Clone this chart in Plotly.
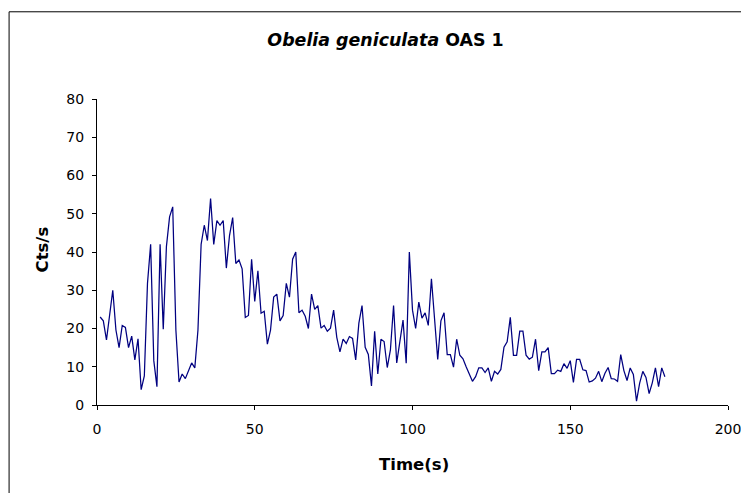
import plotly.graph_objects as go

title_species = "Obelia geniculata"
title_suffix = "OAS 1"
x_label = "Time(s)"
y_label = "Cts/s"

time_s = list(range(1, 181))
counts = [
    23, 22, 17, 24, 30, 19.6, 15, 20.8, 20.3, 15,
    18, 11.8, 17.3, 4, 7.6, 31.8, 42, 11.6, 4.8, 42,
    19.8, 41.4, 49.2, 51.8, 19.6, 6, 8.1, 6.9, 9.2, 11,
    9.7, 19.6, 42, 47, 43, 54, 42, 48.2, 47, 48.2,
    35.8, 44.3, 49, 37, 37.9, 35.6, 22.9, 23.4, 38.1, 27.1,
    35.1, 24, 24.5, 15.9, 19.6, 28.2, 29, 22, 23.4, 31.8,
    28.2, 38.1, 40, 24.1, 24.8, 23.2, 20, 29, 25, 26,
    20.1, 20.8, 19.3, 20.1, 24.8, 17.7, 13.9, 17.2, 16.1, 17.9,
    17.4, 11.8, 21.4, 26, 15.1, 13.2, 5, 19.3, 8.1, 17.2,
    16.6, 9.8, 14.4, 26, 11, 16.4, 22.2, 10.9, 40, 24.8,
    20, 26.9, 22.7, 24.1, 20.8, 33, 22.2, 11.9, 22, 24.1,
    13.2, 13.2, 9.9, 17.2, 13, 12.1, 10, 8, 6.2, 7.4,
    9.7, 9.7, 8.5, 9.7, 6.2, 8.8, 8.1, 9.3, 15.1, 16.5,
    22.9, 13, 13, 19.3, 19.3, 13, 12, 12.5, 17.2, 9,
    13.9, 13.9, 15, 8.2, 8.2, 9.1, 8.8, 10.8, 9.6, 11.6,
    5.9, 11.9, 11.9, 9.2, 9, 6, 6.3, 7, 8.8, 6.1,
    8.3, 9.8, 6.9, 6.8, 6.2, 13.2, 9, 6.4, 9.7, 8,
    1, 5.7, 8.8, 7.2, 3, 5.8, 9.7, 4.8, 9.7, 7.4,
]

x_ticks = [0, 50, 100, 150, 200]
y_ticks = [0, 10, 20, 30, 40, 50, 60, 70, 80]

FONT = "DejaVu Sans"
# the page body adds an 8px offset; the figure fills the rest of the window
OFF = 8
W, H = 749 - OFF, 493 - OFF
ml, mt = 97.4 - OFF, 99 - OFF
mr = W - (728.3 - OFF)
mb = H - (405.3 - OFF)
pw = W - ml - mr
ph = H - mt - mb

fig = go.Figure()
fig.add_trace(go.Scatter(
    x=time_s, y=counts, mode="lines",
    line=dict(color="#000080", width=1.25),
    showlegend=False, hoverinfo="skip",
))

axis_common = dict(
    showgrid=False, zeroline=False, showline=True, linecolor="black", linewidth=1,
    ticks="outside", ticklen=4, tickcolor="black", tickwidth=1,
    tickfont=dict(family=FONT, size=14, color="black"),
    ticklabeloverflow="allow", automargin=False,
)
fig.update_xaxes(range=[0, 200], tickvals=x_ticks, ticktext=[str(v) for v in x_ticks],
                 ticklabelstandoff=7, **axis_common)
fig.update_yaxes(range=[0, 80], tickvals=y_ticks, ticktext=[str(v) for v in y_ticks],
                 ticklabelstandoff=5, **axis_common)

plot_bottom = H - mb  # figure-internal pixel of y=0

fig.update_layout(
    width=W, height=H, autosize=False,
    margin=dict(l=ml, r=mr, t=mt, b=mb, pad=0, autoexpand=False),
    paper_bgcolor="white", plot_bgcolor="white",
    title=dict(
        text=f"<b><i>{title_species}</i> {title_suffix}</b>",
        font=dict(family=FONT, size=17.4, color="black"),
        x=(385.5 - OFF) / W, xref="container", xanchor="center",
        y=1 - (40 - OFF) / H, yref="container", yanchor="middle",
    ),
    annotations=[
        dict(text=f"<b>{x_label}</b>", xref="paper", yref="paper",
             x=(414 - OFF - ml) / pw, y=-(465 - OFF - plot_bottom) / ph,
             xanchor="center", yanchor="middle", showarrow=False,
             font=dict(family=FONT, size=16.5, color="black")),
        dict(text=f"<b>{y_label}</b>", xref="paper", yref="paper",
             x=-(ml - (43 - OFF)) / pw, y=(plot_bottom - (250 - OFF)) / ph, textangle=-90,
             xanchor="center", yanchor="middle", showarrow=False,
             font=dict(family=FONT, size=16.5, color="black")),
    ],
    shapes=[
        dict(type="rect", xref="paper", yref="paper",
             x0=(9.5 - OFF - ml) / pw, x1=(W + 20 - ml) / pw,
             y0=-(H + 20 - plot_bottom) / ph, y1=(plot_bottom - (11.7 - OFF)) / ph,
             line=dict(color="black", width=1), fillcolor="rgba(0,0,0,0)",
             layer="below"),
    ],
)

fig.write_html("out.html")
